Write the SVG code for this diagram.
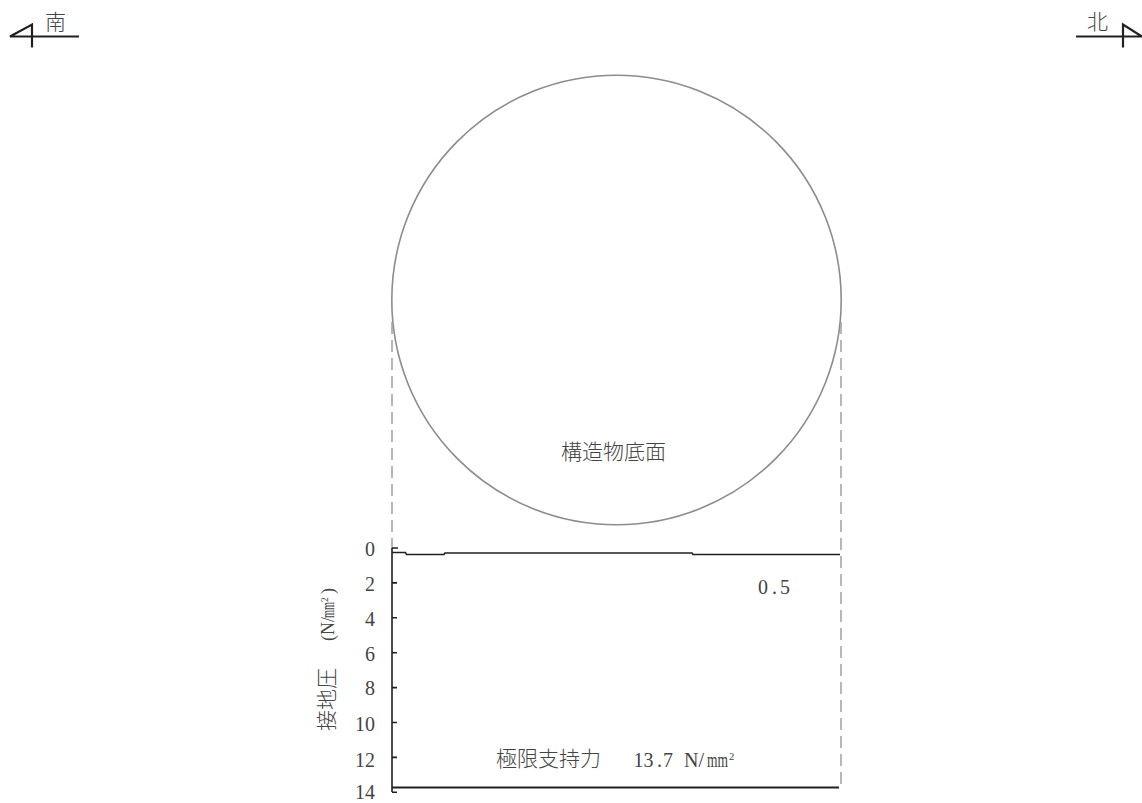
<svg xmlns="http://www.w3.org/2000/svg" width="1142" height="803" viewBox="0 0 1142 803">
<style>
text{font-family:"Liberation Serif","Noto Sans CJK JP",serif;font-size:20px;fill:#444}
.cjk{font-family:"Noto Sans CJK JP",sans-serif;font-weight:300;font-size:21px}
.sup{font-size:10.500px}
.supv{font-size:9.500px}
.v{font-size:18px}
.k{fill:none;stroke:#231f20;stroke-width:2.200}
.t{fill:none;stroke:#231f20;stroke-width:1.600}
.d{fill:none;stroke:#a0a0a0;stroke-width:1.500;stroke-dasharray:12 6}
.c{fill:none;stroke:#8c8c8c;stroke-width:1.600}
</style>
<rect width="1142" height="803" fill="#fff"/>
<g id="south-marker">
<path class="k" d="M79 36.500H10L32 24.500V47.500"/>
<text class="cjk" x="45" y="29">南</text>
</g>
<g id="north-marker">
<path class="k" d="M1076 36.500H1142L1123 24.500V47.500"/>
<text class="cjk" x="1087" y="29">北</text>
</g>
<g id="foundation">
<circle class="c" cx="616.500" cy="300" r="224.700"/>
<text class="cjk" x="561" y="459">構造物底面</text>
</g>
<g id="connectors">
<path class="d" d="M392 322V548"/>
<path class="d" d="M841 322V784"/>
</g>
<g id="chart">
<path class="t" d="M392 548V792M392 548H398M392 582.900H397M392 617.800H397M392 652.700H397M392 687.600H397M392 722.500H397M392 757.400H397M392 792.300H397"/>
<path class="t" d="M392 552.500H405.500L406.500 554.500H444L445 553H692L693 554.500H840"/>
<path class="k" d="M392 787.500H839"/>
<g text-anchor="end">
<text x="375" y="555.500">0</text><text x="375" y="590.500">2</text><text x="375" y="625.500">4</text><text x="375" y="660.500">6</text><text x="375" y="695">8</text><text x="375" y="731">10</text><text x="375" y="766.500">12</text><text x="375" y="798.500">14</text>
</g>
<text x="758 772 780" y="594">0.5</text>
<text class="cjk" x="496" y="766">極限支持力</text>
<text y="767"><tspan x="633.500 643.500 657 663">13.7</tspan><tspan x="684">N/</tspan><tspan x="707" textLength="21" lengthAdjust="spacingAndGlyphs">mm</tspan><tspan class="sup" x="729" y="760">2</tspan></text>
<text transform="translate(334 731) rotate(-90)"><tspan class="cjk" x="0">接地圧</tspan><tspan class="v" x="90">(</tspan><tspan class="v" x="96">N/</tspan><tspan class="v" x="113" textLength="16" lengthAdjust="spacingAndGlyphs">mm</tspan><tspan class="supv" x="129" y="-6">2</tspan><tspan class="v" x="137" y="0">)</tspan></text>
</g>
</svg>
